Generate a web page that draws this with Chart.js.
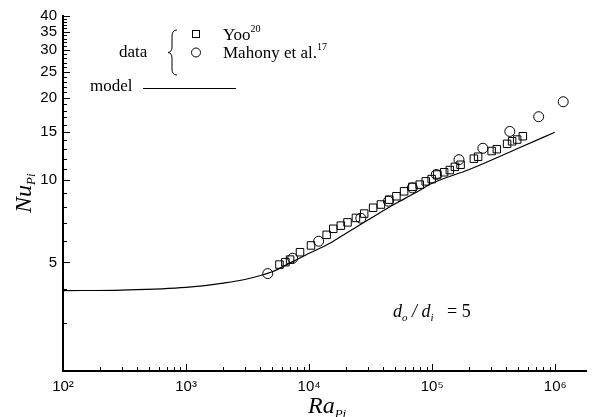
<!DOCTYPE html>
<html>
<head>
<meta charset="utf-8">
<script src="https://cdn.jsdelivr.net/npm/chart.js@4.4.1/dist/chart.umd.min.js"></script>
<style>
  html, body { margin: 0; padding: 0; background: #fff; }
</style>
</head>
<body>
<canvas id="nu-chart" width="593" height="417"></canvas>
<script>
// Yoo (squares)
const raYoo = [5740, 6410, 7000, 8430, 10350, 13870, 15700, 18100, 20500, 24000, 28000, 33100,
  38300, 44700, 51200, 59100, 69000, 79200, 88600, 99000, 110000, 125000, 139000, 153000,
  170000, 218000, 236000, 304000, 335000, 406000, 446000, 490000, 545000];
const nuYoo = [4.91, 5.01, 5.12, 5.45, 5.77, 6.31, 6.64, 6.82, 7.01, 7.28, 7.55, 7.93,
  8.15, 8.49, 8.74, 9.11, 9.46, 9.64, 9.91, 10.1, 10.5, 10.7, 10.9, 11.2,
  11.4, 12.0, 12.2, 12.8, 13.0, 13.6, 13.9, 14.1, 14.5];

// Mahony et al. (circles)
const raMahony = [4610, 7350, 11940, 26300, 44100, 69000, 107900, 165000, 258000, 427000, 733000, 1160000];
const nuMahony = [4.55, 5.18, 5.98, 7.26, 8.38, 9.38, 10.5, 11.9, 13.1, 15.1, 17.1, 19.4];

// model curve
const raModel = [100, 300, 1000, 2000, 3000, 5000, 7000, 10000, 15000, 20000, 30000, 50000, 70000, 100000, 200000, 500000, 990000];
const nuModel = [3.94, 3.96, 4.05, 4.2, 4.33, 4.62, 4.98, 5.4, 5.9, 6.4, 7.15, 8.2, 8.9, 9.75, 10.95, 13.1, 15.0];

// axes
const xDecades = [100, 1000, 10000, 100000, 1000000];
const xDecadeLabels = ['10²', '10³', '10⁴', '10⁵', '10⁶'];
const yLabelled = [5, 10, 15, 20, 25, 30, 35, 40];
const yMinor = [3, 4, 6, 7, 8, 9, 11, 12, 13, 14, 16, 17, 18, 19, 21, 22, 23, 24, 26, 27, 28, 29, 31, 32, 33, 34, 36, 37, 38, 39];

const toPoints = (xs, ys) => xs.map((x, i) => ({ x: x, y: ys[i] }));

let xTickValues = [];
xDecades.forEach(d => {
  for (let m = 1; m <= 9; m++) {
    if (d * m <= 1800000) xTickValues.push(d * m);
  }
});
const yTickValues = yLabelled.concat(yMinor).sort((a, b) => a - b);

const serif = '"Liberation Serif", "Times New Roman", serif';

// draw text pieces one after another (for sub/superscripts)
const drawRuns = (ctx, x, y, runs) => {
  runs.forEach(r => {
    ctx.font = r.font;
    ctx.fillText(r.t, x, y + (r.dy || 0));
    x += ctx.measureText(r.t).width;
  });
};

const decorPlugin = {
  id: 'decor',
  afterDraw(chart) {
    const ctx = chart.ctx;
    const xs = chart.scales.x, ys = chart.scales.y;
    const area = chart.chartArea;
    ctx.save();
    ctx.strokeStyle = '#000';
    ctx.fillStyle = '#000';
    ctx.lineWidth = 1;

    // inward tick marks
    ctx.beginPath();
    xs.ticks.forEach(t => {
      const px = Math.round(xs.getPixelForValue(t.value)) + 0.5;
      const major = xDecades.includes(t.value);
      ctx.moveTo(px, area.bottom);
      ctx.lineTo(px, area.bottom - (major ? 7 : 4));
    });
    ys.ticks.forEach(t => {
      const py = Math.round(ys.getPixelForValue(t.value)) + 0.5;
      const major = yLabelled.includes(t.value);
      ctx.moveTo(area.left, py);
      ctx.lineTo(area.left + (major ? 7 : 4), py);
    });
    ctx.stroke();

    ctx.textAlign = 'left';
    ctx.textBaseline = 'alphabetic';

    // axis titles
    drawRuns(ctx, 308, 413, [
      { t: 'Ra', font: 'italic 24px ' + serif },
      { t: 'Pi', font: 'italic 13px ' + serif, dy: 5 }
    ]);
    ctx.save();
    ctx.translate(31, 213);
    ctx.rotate(-Math.PI / 2);
    drawRuns(ctx, 0, 0, [
      { t: 'Nu', font: 'italic 24px ' + serif },
      { t: 'Pi', font: 'italic 13px ' + serif, dy: 4 }
    ]);
    ctx.restore();

    // legend
    ctx.font = '17px ' + serif;
    ctx.fillText('data', 119, 57);
    ctx.fillText('model', 90, 91);
    ctx.beginPath();
    ctx.moveTo(143, 88.5);
    ctx.lineTo(236, 88.5);
    ctx.stroke();

    // brace
    ctx.beginPath();
    ctx.moveTo(177, 30);
    ctx.quadraticCurveTo(172, 30, 172, 36);
    ctx.lineTo(172, 47);
    ctx.quadraticCurveTo(172, 52, 168, 52.5);
    ctx.quadraticCurveTo(172, 53, 172, 58);
    ctx.lineTo(172, 69);
    ctx.quadraticCurveTo(172, 75, 177, 75);
    ctx.stroke();

    ctx.strokeRect(192.5, 30.5, 7, 7);
    ctx.beginPath();
    ctx.arc(196, 52.5, 4.5, 0, Math.PI * 2);
    ctx.stroke();

    drawRuns(ctx, 223, 40, [
      { t: 'Yoo', font: '17px ' + serif },
      { t: '20', font: '10px ' + serif, dy: -8 }
    ]);
    drawRuns(ctx, 223, 58, [
      { t: 'Mahony et al.', font: '17px ' + serif },
      { t: '17', font: '10px ' + serif, dy: -8 }
    ]);

    // ratio note
    drawRuns(ctx, 393, 317, [
      { t: 'd', font: 'italic 18px ' + serif },
      { t: 'o', font: 'italic 11px ' + serif, dy: 4 },
      { t: ' / ', font: 'italic 18px ' + serif },
      { t: 'd', font: 'italic 18px ' + serif },
      { t: 'i', font: 'italic 11px ' + serif, dy: 4 },
      { t: '   = 5', font: '18px ' + serif }
    ]);
    ctx.restore();
  }
};

const config = {
  type: 'scatter',
  data: {
    datasets: [
      {
        label: 'Yoo',
        data: toPoints(raYoo, nuYoo),
        pointStyle: 'rect',
        pointRadius: 5.3,
        borderColor: '#000',
        backgroundColor: 'rgba(0,0,0,0)',
        borderWidth: 1,
        order: 2
      },
      {
        label: 'Mahony et al.',
        data: toPoints(raMahony, nuMahony),
        pointStyle: 'circle',
        pointRadius: 5,
        borderColor: '#000',
        backgroundColor: 'rgba(0,0,0,0)',
        borderWidth: 1,
        order: 1
      },
      {
        label: 'model',
        data: toPoints(raModel, nuModel),
        showLine: true,
        pointRadius: 0,
        borderColor: '#000',
        borderWidth: 1.2,
        cubicInterpolationMode: 'monotone',
        order: 3
      }
    ]
  },
  options: {
    responsive: false,
    animation: false,
    layout: { padding: { top: 16, right: 5, left: 0, bottom: 0 } },
    plugins: {
      legend: { display: false },
      tooltip: { enabled: false }
    },
    scales: {
      x: {
        type: 'logarithmic',
        min: 100,
        max: 1800000,
        grid: { display: false, drawTicks: false },
        border: { display: true, color: '#000', width: 2 },
        afterBuildTicks: s => { s.ticks = xTickValues.map(v => ({ value: v })); },
        afterFit: s => { s.height = 46; },
        ticks: {
          autoSkip: false,
          maxRotation: 0,
          padding: 7,
          color: '#000',
          font: { family: '"Liberation Sans", Arial, sans-serif', size: 15 },
          callback: v => {
            const i = xDecades.indexOf(v);
            return i >= 0 ? xDecadeLabels[i] : '';
          }
        }
      },
      y: {
        type: 'logarithmic',
        min: 2,
        max: 40,
        grid: { display: false, drawTicks: false },
        border: { display: true, color: '#000', width: 2 },
        afterBuildTicks: s => { s.ticks = yTickValues.map(v => ({ value: v })); },
        afterFit: s => { s.width = 63; },
        ticks: {
          autoSkip: false,
          padding: 6,
          color: '#000',
          font: { family: '"Liberation Sans", Arial, sans-serif', size: 15 },
          callback: v => yLabelled.includes(v) ? String(v) : ''
        }
      }
    }
  },
  plugins: [decorPlugin]
};

const nuChart = new Chart(document.getElementById('nu-chart'), config);
</script>
</body>
</html>
